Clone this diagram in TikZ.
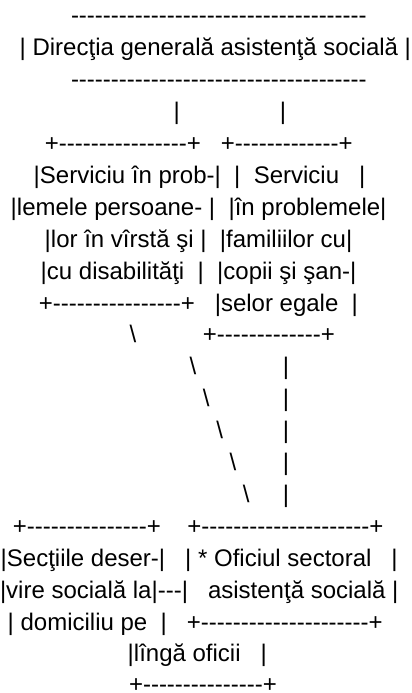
\documentclass[tikz,border=0pt]{standalone}
\usepackage{fontspec}
\setmainfont{Liberation Sans}[Ligatures=TeXOff]
\newcommand\dashrun[1]{\foreach\k in {1,...,#1}{-}}
\newcommand\blanks[1]{\foreach\k in {1,...,#1}{~}}
\begin{document}
\begin{tikzpicture}[x=1pt,y=1pt,
  txt/.style={anchor=base west,inner sep=0pt,outer sep=0pt,font=\fontsize{24}{24}\selectfont}]
\useasboundingbox (0,0) rectangle (412,693);
% head
\node[txt] (topline) at (71,669) {\dashrun{37}};
\node[txt] (head) at (19.7,637.1) {| Direcţia generală asistenţă socială |};
\node[txt] (botline) at (71,605.2) {\dashrun{37}};
\node[txt] (links) at (173.7,573.3) {|\blanks{15}|};
% two services
\node[txt] (srvtop) at (44.9,541.4) {+\dashrun{16}+\blanks{3}+\dashrun{13}+};
\node[txt] (srv1) at (33.7,509.5) {|Serviciu în prob-|\blanks{2}|\blanks{2}Serviciu\blanks{3}|};
\node[txt] (srv2) at (10.7,477.6) {|lemele persoane- |\blanks{2}|în problemele|};
\node[txt] (srv3) at (44.7,445.7) {|lor în vîrstă şi |\blanks{2}|familiilor cu|};
\node[txt] (srv4) at (40.7,413.8) {|cu disabilităţi\blanks{2}|\blanks{2}|copii şi şan-|};
\node[txt] (srv5) at (38.9,381.9) {+\dashrun{16}+\blanks{3}|selor egale\blanks{2}|};
\node[txt] (srv6) at (129.5,350) {\textbackslash\blanks{10}+\dashrun{13}+};
% links down
\foreach \i/\n in {1/13,2/11,3/9,4/7,5/5}
  \node[txt] (down\i) at ({189.6+13.34*(\i-1)},{350-31.9*\i}) {\textbackslash\blanks{\n}|};
% lower boxes
\node[txt] (low0) at (12.9,158.6) {+\dashrun{15}+\blanks{4}+\dashrun{21}+};
\node[txt] (low1) at (0.7,126.7) {|Secţiile deser-|\blanks{3}| * Oficiul sectoral\blanks{3}|};
\node[txt] (low2) at (0,94.8) {|vire socială la|---|\blanks{3}asistenţă socială\blanks{1}|};
\node[txt] (low3) at (7.7,62.9) {| domiciliu pe\blanks{2}|\blanks{3}+\dashrun{21}+};
\node[txt] (low4) at (127.7,31) {|lîngă oficii\blanks{3}|};
\node[txt] (low5) at (129,0.3) {+\dashrun{15}+};
\end{tikzpicture}
\end{document}
